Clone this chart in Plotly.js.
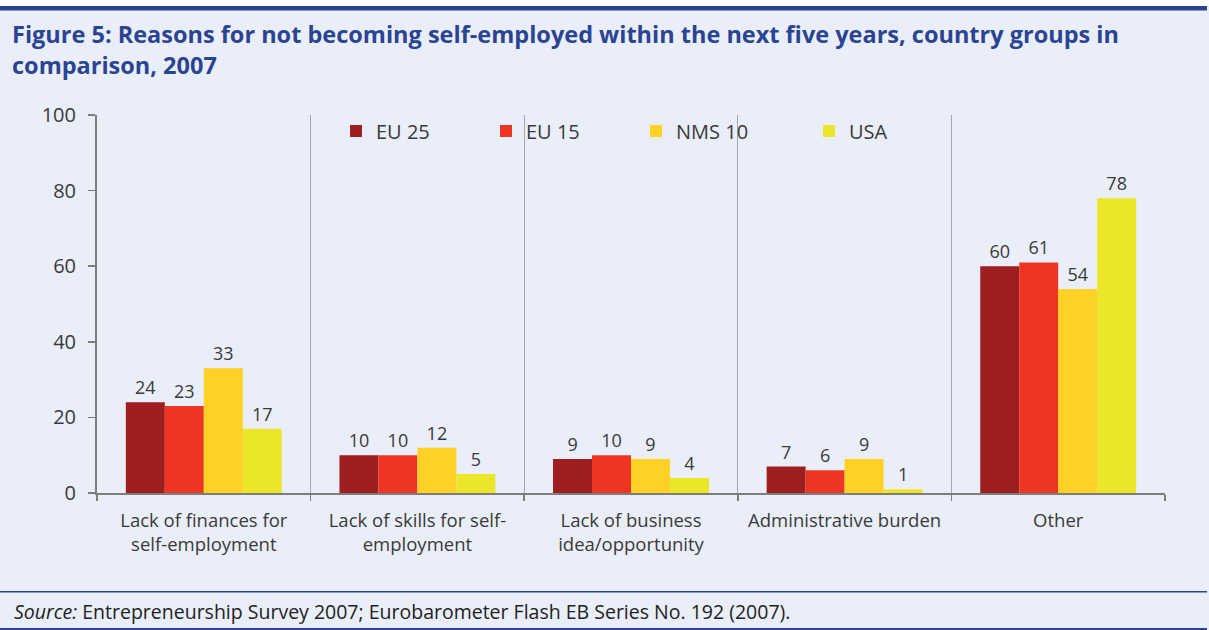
<!DOCTYPE html>
<html>
<head>
<meta charset="utf-8">
<script src="https://cdn.plot.ly/plotly-3.0.1.min.js"></script>
<style>html,body{margin:0;padding:0;background:#e9eef8;}#chart{width:1209px;height:630px;}</style>
</head>
<body>
<div id="chart"></div>
<script>
const categories = [
  "Lack of finances for<br>self-employment",
  "Lack of skills for self-<br>employment",
  "Lack of business<br>idea/opportunity",
  "Administrative burden",
  "Other"
];
const seriesNames = ["EU 25", "EU 15", "NMS 10", "USA"];
const eu25 = [24, 10, 9, 7, 60];
const eu15 = [23, 10, 10, 6, 61];
const nms10 = [33, 12, 9, 9, 54];
const usa = [17, 5, 4, 1, 78];
const seriesValues = [eu25, eu15, nms10, usa];
const seriesColors = ["#9e1f20", "#ee3524", "#fed124", "#ebe62a"];
const legendNames = ["legend", "legend2", "legend3", "legend4"];
const legendLeftPx = [336, 486, 636, 809];

const FONT = "'Open Sans', 'Noto Sans', sans-serif";
const TXT = "#3a3a3a";
const BLUE = "#2b4492";
const plotL = 97, plotR = 1165, plotT = 115, plotB = 493;

const traces = seriesValues.map((vals, i) => ({
  type: "bar",
  name: seriesNames[i],
  x: categories,
  y: vals,
  marker: {color: seriesColors[i]},
  text: vals.map(String),
  textposition: "outside",
  textfont: {family: FONT, size: 18, color: TXT},
  cliponaxis: false,
  legend: legendNames[i],
  showlegend: true,
  hoverinfo: "x+y+name"
}));

const legendY = (plotB - 131) / (plotB - plotT);
const layout = {
  width: 1209, height: 630,
  showlegend: true,
  paper_bgcolor: "#e9eef8",
  plot_bgcolor: "#e9eef8",
  margin: {l: plotL, r: 1209 - plotR, t: plotT, b: 630 - plotB},
  font: {family: FONT, color: TXT},
  title: {
    text: "Figure 5: Reasons for not becoming self-employed within the next five years, country groups in<br>comparison, 2007",
    font: {family: FONT, size: 23.5, color: BLUE, weight: "bold"},
    x: 12 / 1209, xanchor: "left", xref: "container",
    y: 1 - 43 / 630, yanchor: "top", yref: "container"
  },
  barmode: "group",
  bargap: 0.27,
  bargroupgap: 0,
  xaxis: {
    type: "category",
    tickson: "boundaries",
    showgrid: true, gridcolor: "#a3a6ad", gridwidth: 1,
    ticks: "outside", ticklen: 6, tickcolor: "#7d7d7d", tickwidth: 1.5,
    showline: true, linecolor: "#7d7d7d", linewidth: 2,
    tickfont: {family: FONT, size: 18.5, color: TXT},
    ticklabelstandoff: 10,
    zeroline: false
  },
  yaxis: {
    range: [0, 100], dtick: 20, tick0: 0,
    showgrid: false, zeroline: false,
    ticks: "outside", ticklen: 7, tickcolor: "#7d7d7d", tickwidth: 1.5,
    showline: true, linecolor: "#7d7d7d", linewidth: 2,
    tickfont: {family: FONT, size: 20, color: TXT},
    ticklabelstandoff: 8
  },
  shapes: [
    {type: "rect", xref: "paper", yref: "paper", xsizemode: "pixel", ysizemode: "pixel",
     xanchor: 0, yanchor: 1, x0: -110, x1: 1130, y0: plotT - 6, y1: plotT + 10,
     fillcolor: "#ffffff", line: {width: 0}, layer: "below"},
    {type: "rect", xref: "paper", yref: "paper", xsizemode: "pixel", ysizemode: "pixel",
     xanchor: 0, yanchor: 1, x0: -110, x1: 1110, y0: plotT - 10.5, y1: plotT - 6,
     fillcolor: BLUE, line: {width: 0}, layer: "below"},
    {type: "rect", xref: "paper", yref: "paper", xsizemode: "pixel", ysizemode: "pixel",
     xanchor: 0, yanchor: 0, x0: -110, x1: 1110, y0: plotB - 591, y1: plotB - 592.5,
     fillcolor: BLUE, line: {width: 0}, layer: "below"},
    {type: "rect", xref: "paper", yref: "paper", xsizemode: "pixel", ysizemode: "pixel",
     xanchor: 0, yanchor: 0, x0: -110, x1: 1110, y0: plotB - 628, y1: plotB - 631,
     fillcolor: BLUE, line: {width: 0}, layer: "below"}
  ],
  annotations: [
    {xref: "paper", yref: "paper", x: 0, y: 0, xanchor: "left", yanchor: "middle",
     xshift: 12 - plotL, yshift: plotB - 611, showarrow: false,
     text: "<i>Source:</i> Entrepreneurship Survey 2007; Eurobarometer Flash EB Series No. 192 (2007).",
     font: {family: FONT, size: 19.5, color: "#222222"}}
  ]
};
legendNames.forEach((ln, i) => {
  layout[ln] = {
    visible: true,
    orientation: "h",
    x: (legendLeftPx[i] - plotL) / (plotR - plotL), xanchor: "left",
    y: legendY, yanchor: "middle",
    bgcolor: "rgba(0,0,0,0)",
    font: {family: FONT, size: 20, color: TXT},
    itemwidth: 30
  };
});

Plotly.newPlot("chart", traces, layout, {displayModeBar: false, staticPlot: true});
</script>
</body>
</html>
